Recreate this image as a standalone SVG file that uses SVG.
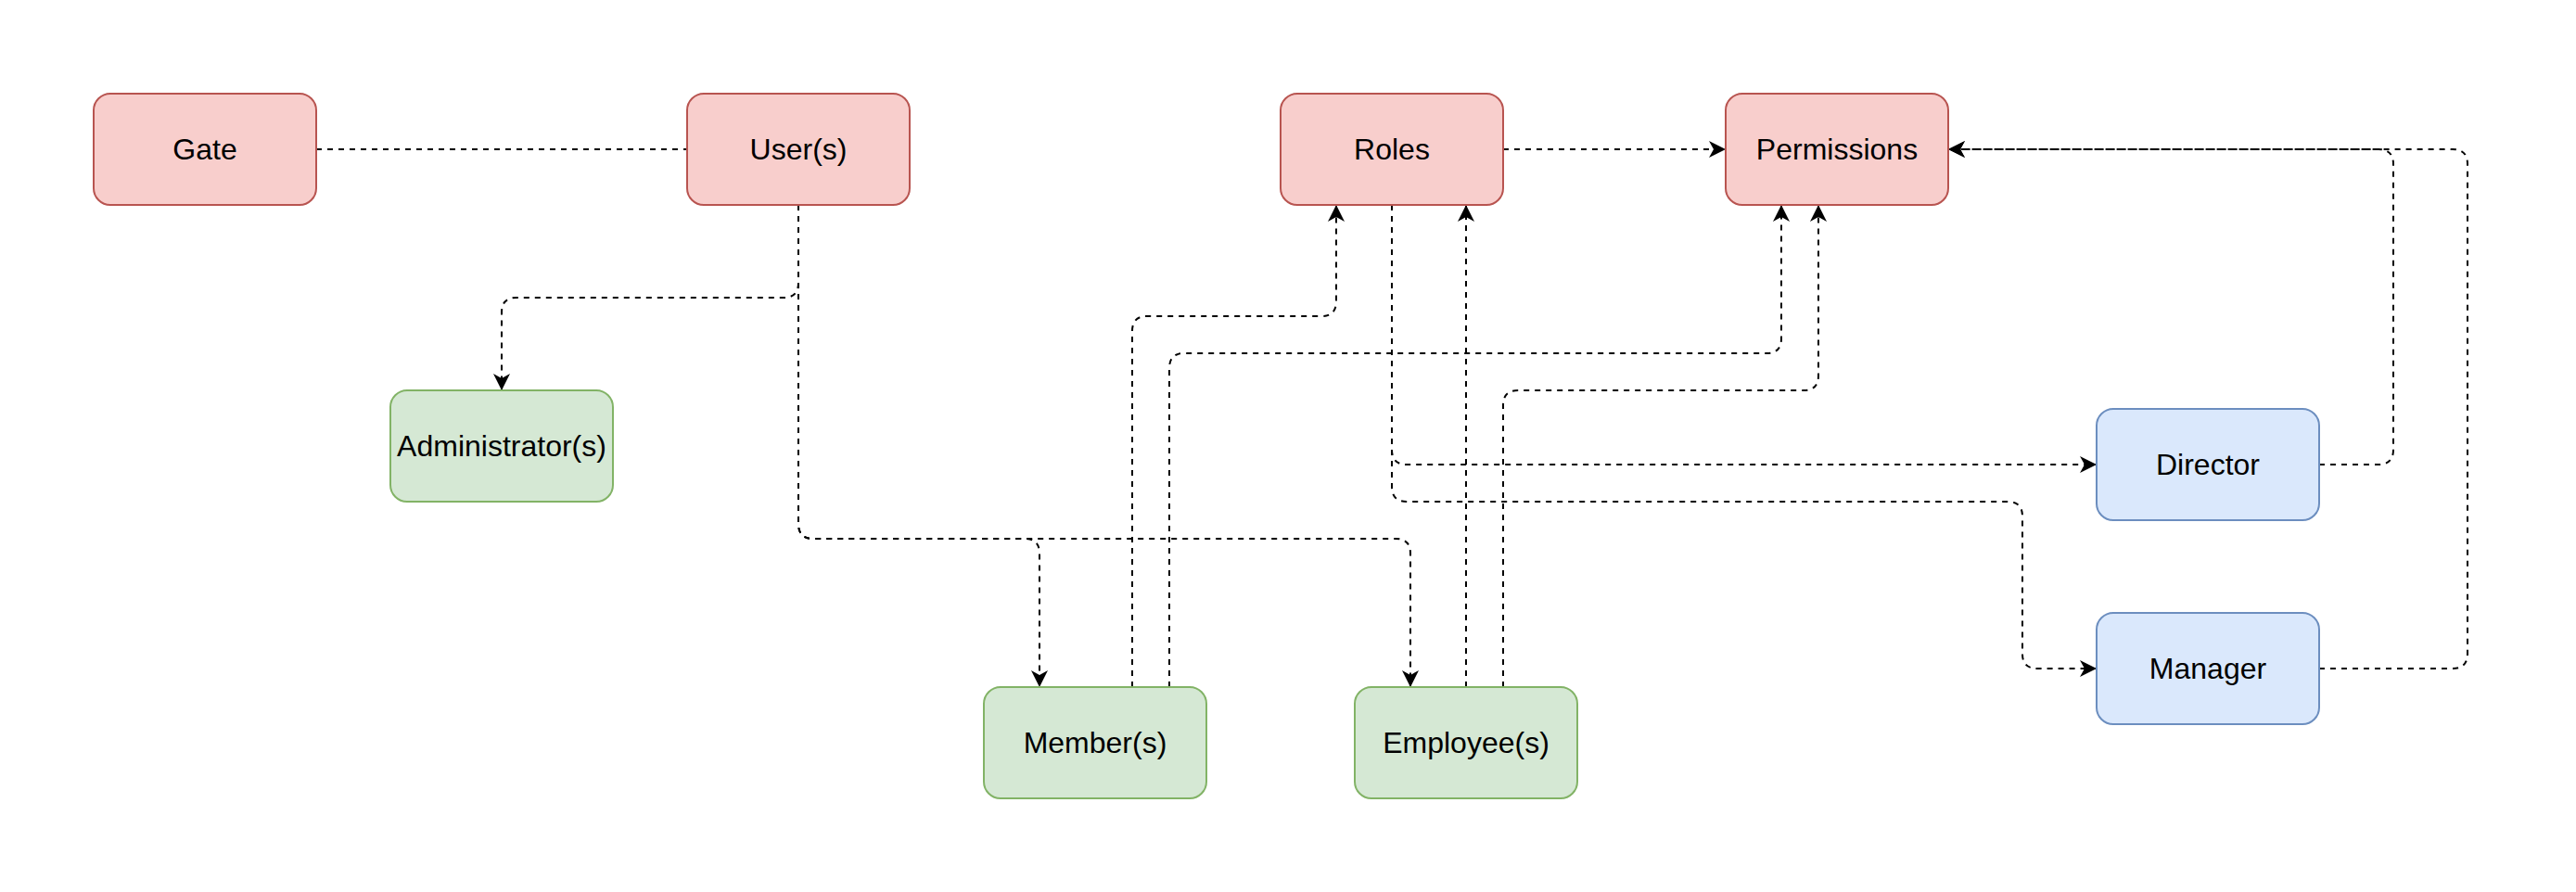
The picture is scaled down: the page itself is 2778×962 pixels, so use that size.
<svg xmlns="http://www.w3.org/2000/svg" width="2778" height="962" viewBox="0 0 2778 962">
<style>
.n rect{stroke-width:2}
.red rect{fill:#f8cecc;stroke:#b85450}
.green rect{fill:#d5e8d4;stroke:#82b366}
.blue rect{fill:#dae8fc;stroke:#6c8ebf}
.n text{font-family:"Liberation Sans",Arial,sans-serif;font-size:32px;fill:#000;text-anchor:middle}
.e path{fill:none;stroke:#000;stroke-width:2;stroke-dasharray:6 6}
</style>
<defs>
<marker id="arr" markerUnits="userSpaceOnUse" markerWidth="20" markerHeight="20" refX="18" refY="9" orient="auto" overflow="visible">
<path d="M18,9 L0,0 L5,9 L0,18 Z" fill="#000"/>
</marker>
</defs>
<rect width="2778" height="962" fill="#fff"/>
<g transform="translate(1,1)">
<g id="connectors" class="e">
<path id="e-gate-user" d="M340,160 H740"/>
<path id="e-user-admin" d="M860,220 V304 Q860,320 844,320 H556 Q540,320 540,336 V420" marker-end="url(#arr)"/>
<path id="e-user-member" d="M860,220 V564 Q860,580 876,580 H1104 Q1120,580 1120,596 V740" marker-end="url(#arr)"/>
<path id="e-user-employee" d="M860,220 V564 Q860,580 876,580 H1504 Q1520,580 1520,596 V740" marker-end="url(#arr)"/>
<path id="e-member-roles" d="M1220,740 V356 Q1220,340 1236,340 H1424 Q1440,340 1440,324 V220" marker-end="url(#arr)"/>
<path id="e-member-perm" d="M1260,740 V396 Q1260,380 1276,380 H1904 Q1920,380 1920,364 V220" marker-end="url(#arr)"/>
<path id="e-employee-roles" d="M1580,740 V220" marker-end="url(#arr)"/>
<path id="e-employee-perm" d="M1620,740 V436 Q1620,420 1636,420 H1944 Q1960,420 1960,404 V220" marker-end="url(#arr)"/>
<path id="e-roles-perm" d="M1620,160 H1860" marker-end="url(#arr)"/>
<path id="e-roles-director" d="M1500,220 V484 Q1500,500 1516,500 H2260" marker-end="url(#arr)"/>
<path id="e-roles-manager" d="M1500,220 V524 Q1500,540 1516,540 H2164 Q2180,540 2180,556 V704 Q2180,720 2196,720 H2260" marker-end="url(#arr)"/>
<path id="e-director-perm" d="M2500,500 H2564 Q2580,500 2580,484 V176 Q2580,160 2564,160 H2100" marker-end="url(#arr)"/>
<path id="e-manager-perm" d="M2500,720 H2644 Q2660,720 2660,704 V176 Q2660,160 2644,160 H2100" marker-end="url(#arr)"/>
</g>
<g id="gate" class="n red"><rect x="100" y="100" width="240" height="120" rx="18"/><text x="220" y="171">Gate</text></g>
<g id="users" class="n red"><rect x="740" y="100" width="240" height="120" rx="18"/><text x="860" y="171">User(s)</text></g>
<g id="roles" class="n red"><rect x="1380" y="100" width="240" height="120" rx="18"/><text x="1500" y="171">Roles</text></g>
<g id="permissions" class="n red"><rect x="1860" y="100" width="240" height="120" rx="18"/><text x="1980" y="171">Permissions</text></g>
<g id="administrators" class="n green"><rect x="420" y="420" width="240" height="120" rx="18"/><text x="540" y="491">Administrator(s)</text></g>
<g id="members" class="n green"><rect x="1060" y="740" width="240" height="120" rx="18"/><text x="1180" y="811">Member(s)</text></g>
<g id="employees" class="n green"><rect x="1460" y="740" width="240" height="120" rx="18"/><text x="1580" y="811">Employee(s)</text></g>
<g id="director" class="n blue"><rect x="2260" y="440" width="240" height="120" rx="18"/><text x="2380" y="511">Director</text></g>
<g id="manager" class="n blue"><rect x="2260" y="660" width="240" height="120" rx="18"/><text x="2380" y="731">Manager</text></g>
</g>
</svg>
